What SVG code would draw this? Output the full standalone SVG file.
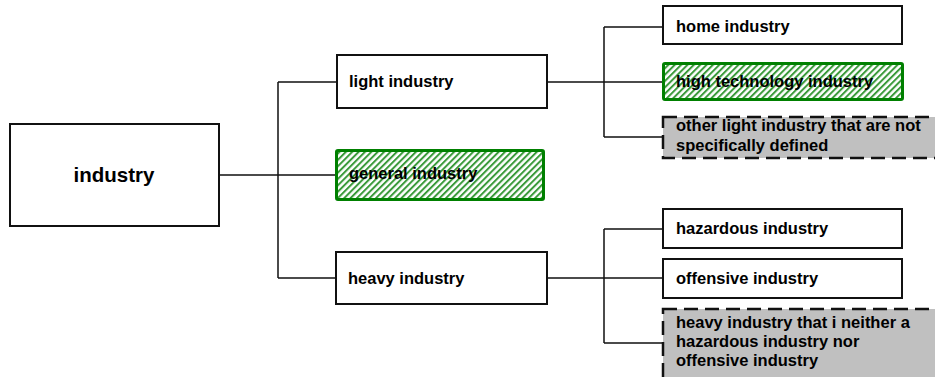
<svg xmlns="http://www.w3.org/2000/svg" width="935" height="377" viewBox="0 0 935 377">
<style>
text{font-family:"Liberation Sans",Arial,sans-serif;font-weight:bold;fill:#000;font-size:16.5px}
.box{fill:#fff;stroke:#111;stroke-width:2}
.hl{fill:url(#hatch);stroke:#008000;stroke-width:3}
.other{fill:#c0c0c0;stroke:#111;stroke-width:2.5;stroke-dasharray:14 7}
.conn{fill:none;stroke:#111;stroke-width:1.5}
</style>
<defs>
<pattern id="hatch" patternUnits="userSpaceOnUse" width="4.5" height="4.5" patternTransform="rotate(45)">
<rect width="4.5" height="4.5" fill="#fff"/>
<rect width="2" height="4.5" fill="#3a9a3a"/>
</pattern>
</defs>
<rect width="935" height="377" fill="#fff"/>
<text x="251" y="-4" style="font-size:21px">industry group</text>
<g id="connectors">
<path class="conn" d="M219 175H278M278 82V278M278 82H337M278 175H336M278 278H336"/>
<path class="conn" d="M547 82H604M604 27V137M604 27H663M604 82H663M604 137H663"/>
<path class="conn" d="M547 278H604M604 229V343M604 229H663M604 278H663M604 343H663"/>
</g>
<g id="n-industry"><rect class="box" x="10" y="124" width="209" height="102"/><text x="114" y="182" text-anchor="middle" style="font-size:20.5px">industry</text></g>
<g id="n-light"><rect class="box" x="337" y="55" width="210" height="53"/><text x="349" y="87">light industry</text></g>
<g id="n-general"><rect class="hl" x="336.5" y="150.5" width="207" height="49" rx="1.5"/><text x="349" y="179">general industry</text></g>
<g id="n-heavy"><rect class="box" x="336" y="252" width="211" height="52"/><text x="348" y="284">heavy industry</text></g>
<g id="n-home"><rect class="box" x="663" y="6" width="239" height="38"/><text x="676" y="32">home industry</text></g>
<g id="n-hightech"><rect class="hl" x="663.5" y="63.5" width="239" height="36" rx="1.5"/><text x="676" y="87">high technology industry</text></g>
<g id="n-otherlight"><rect class="other" x="663" y="117" width="290" height="41"/><text x="676" y="131">other light industry that are not</text><text x="676" y="151">specifically defined</text></g>
<g id="n-hazardous"><rect class="box" x="663" y="209" width="239" height="39"/><text x="676" y="234">hazardous industry</text></g>
<g id="n-offensive"><rect class="box" x="663" y="259" width="239" height="39"/><text x="676" y="284">offensive industry</text></g>
<g id="n-otherheavy"><rect class="other" x="663" y="309" width="290" height="80"/><text x="676" y="328">heavy industry that i neither a</text><text x="676" y="347">hazardous industry nor</text><text x="676" y="366">offensive industry</text></g>
</svg>
